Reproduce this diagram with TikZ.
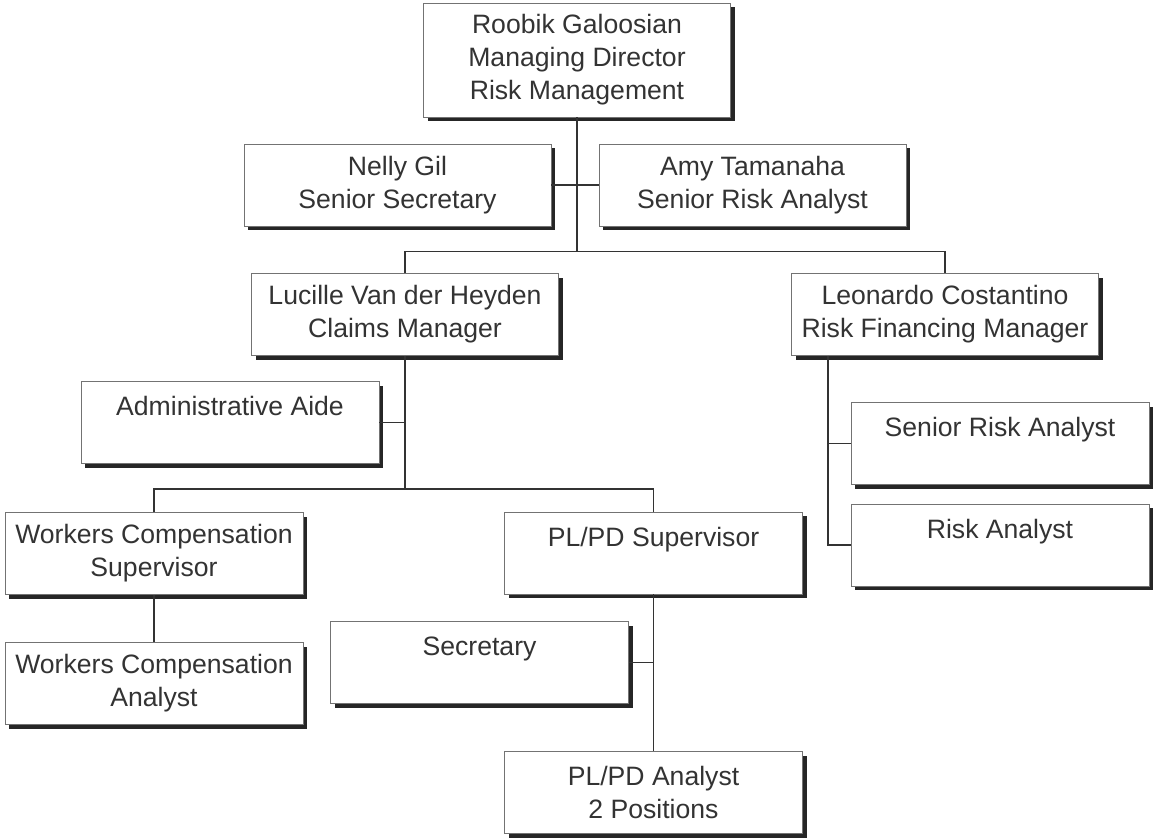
\documentclass[tikz,border=0pt]{standalone}
\usepackage{fontspec}
\setmainfont{Liberation Sans}
\usetikzlibrary{shadows}

\tikzset{
  post/.style={draw=black!55, line width=0.8pt, fill=white, align=center,
    text=black!80, inner sep=0pt, minimum width=298pt, minimum height=82pt,
    font=\fontsize{26.6}{33}\selectfont,
    drop shadow={shadow xshift=4pt, shadow yshift=-4pt, fill=black!85, opacity=1}},
  wide/.style={minimum width=307pt},
  link/.style={draw=black!80, line width=1.8pt}
}

\begin{document}
\begin{tikzpicture}[x=1pt, y=-1pt]
\useasboundingbox (0,0) rectangle (1156,838);
% boxes
\node[post, wide, minimum height=114pt] (rg) at (577,60) {Roobik Galoosian\\Managing Director\\Risk Management};
\node[post, wide] (ng) at (397.5,185) {Nelly Gil\\Senior Secretary};
\node[post, wide] (at) at (752.5,185) {Amy Tamanaha\\Senior Risk Analyst};
\node[post, wide] (lv) at (405,314.5) {Lucille Van der Heyden\\Claims Manager};
\node[post, wide] (lc) at (945,314.5) {Leonardo Costantino\\Risk Financing Manager};
\node[post] (aa) at (230,422.5) {Administrative Aide\\~};
\node[post] (sra) at (1000,443.5) {Senior Risk Analyst\\~};
\node[post] (ra) at (1000,545) {Risk Analyst\\~};
\node[post] (wcs) at (154,553.5) {Workers Compensation\\Supervisor};
\node[post] (ps) at (653.5,553) {PL/PD Supervisor\\~};
\node[post] (wca) at (154,683.5) {Workers Compensation\\Analyst};
\node[post] (sec) at (479.5,662.5) {Secretary\\~};
\node[post] (pa) at (653.5,792.5) {PL/PD Analyst\\2 Positions};
% connectors
\draw[link] (rg.south) -- ++(0,134) coordinate (j1);
\draw[link] (ng.east) -- (at.west);
\draw[link] (lv.north) |- (j1) -| (lc.north);
\draw[link] (lv.south) -- ++(0,133) coordinate (j2);
\draw[link] (aa.east) -- (aa.east -| lv.south);
\draw[link] (wcs.north) |- (j2) -| (ps.north);
\draw[link] (wcs.south) -- (wca.north);
\draw[link] (ps.south) -- (pa.north);
\draw[link] (sec.east) -- (sec.east -| ps.south);
\draw[link] (lc.south west) ++(37,0) |- (sra.west);
\draw[link] (lc.south west) ++(37,0) |- (ra.west);
\end{tikzpicture}
\end{document}
